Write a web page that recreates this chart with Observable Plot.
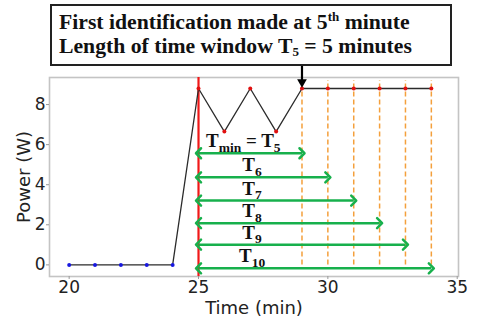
<!DOCTYPE html>
<html>
<head>
<meta charset="utf-8">
<script src="https://cdn.jsdelivr.net/npm/d3@7"></script>
<script src="https://cdn.jsdelivr.net/npm/@observablehq/plot@0.6"></script>
<style>
  body { margin: 0; background: white; }
  #wrap { position: relative; width: 480px; height: 320px; overflow: hidden; }
  #chart { position: absolute; left: 0; top: 0; }
  #box {
    position: absolute; left: 50px; top: 4px; width: 391px; height: 54px;
    border: 2px solid #222; background: white; z-index: 2;
    font-family: "Liberation Serif", "Times New Roman", serif; font-weight: bold;
    font-size: 21.7px; line-height: 24px; color: #111;
    padding: 4px 0 0 7px; white-space: nowrap;
  }
  #box sup { font-size: 0.6em; line-height: 0; vertical-align: 0.6em; }
  #box sub { font-size: 0.6em; line-height: 0; vertical-align: -0.25em; }
</style>
</head>
<body>
<div id="wrap">
  <div id="box">
    <div>First identification made at 5<sup>th</sup> minute</div>
    <div>Length of time window T<sub>5</sub> = 5 minutes</div>
  </div>
  <div id="chart"></div>
</div>
<script>
// ---- data ----
const minutes = [20, 21, 22, 23, 24, 25, 26, 27, 28, 29, 30, 31, 32, 33, 34];
const power   = [0, 0, 0, 0, 0, 8.8, 6.65, 8.8, 6.65, 8.8, 8.8, 8.8, 8.8, 8.8, 8.8];
const identStart = 25;                       // first identification (red line)
const windowEnds = [29, 30, 31, 32, 33, 34];  // orange dashed lines / arrow ends
const windowLabels = ["T_{min} = T_{5}", "T_{6}", "T_{7}", "T_{8}", "T_{9}", "T_{10}"];
const arrowLevels = [5.57, 4.37, 3.21, 2.08, 1.01, -0.17];
const xTicks = [20, 25, 30, 35];
const yTicks = [0, 2, 4, 6, 8];

const series = minutes.map((m, i) => ({minute: m, power: power[i]}));
const before = series.filter(d => d.minute < identStart);
const after = series.filter(d => d.minute >= identStart);
const windows = windowEnds.map((e, i) => ({end: e, level: arrowLevels[i], label: windowLabels[i]}));

const chart = Plot.plot({
  width: 480, height: 320,
  marginTop: 77, marginBottom: 44, marginLeft: 49, marginRight: 22,
  x: {domain: [19.24, 35.05]},
  y: {domain: [-0.58, 9.35]},
  style: {fontFamily: "DejaVu Sans", fontSize: "17px", color: "#222", background: "white", overflow: "visible"},
  marks: [
    Plot.frame({stroke: "#c4c4c4", strokeWidth: 1.6}),
    Plot.axisX({ticks: xTicks, tickSize: 3, tickPadding: 1, stroke: "#999", fill: "#222", label: null}),
    Plot.axisX({ticks: [], tickSize: 0, label: "Time (min)", labelAnchor: "center", labelArrow: "none",
      labelOffset: 37, fontSize: 18, fill: "#222"}),
    Plot.axisY({ticks: yTicks, tickSize: 3, tickPadding: 1, stroke: "#999", fill: "#222", label: null}),
    Plot.axisY({ticks: [], tickSize: 0, label: "Power (W)", labelAnchor: "center", labelArrow: "none",
      labelOffset: 32, fontSize: 18, fill: "#222"}),
    Plot.ruleX(windowEnds, {y1: 0, y2: 9.2, stroke: "#f4a03c", strokeWidth: 1.5, strokeDasharray: "5,3"}),
    Plot.ruleX([identStart], {stroke: "#f01818", strokeWidth: 2.2}),
    Plot.line(series, {x: "minute", y: "power", stroke: "#2b2b2b", strokeWidth: 1.3}),
    Plot.dot(before, {x: "minute", y: "power", r: 2, fill: "#1818e0"}),
    Plot.dot(after, {x: "minute", y: "power", r: 2, fill: "#e01010"}),
    Plot.link(windows, {x1: () => identStart, x2: "end", y1: "level", y2: "level",
      stroke: "#17b04c", strokeWidth: 2.5, markerStart: "arrow-reverse", markerEnd: "arrow"}),
    Plot.text(windows.slice(0, 1), {x: () => 26.73, y: "level", text: "label", dy: -6, lineAnchor: "bottom",
      fontFamily: "Liberation Serif", fontWeight: "bold", fontSize: 19, fill: "#111", className: "sublab"}),
    Plot.text(windows.slice(1), {x: () => 27.07, y: "level", text: "label", dy: -6, lineAnchor: "bottom",
      fontFamily: "Liberation Serif", fontWeight: "bold", fontSize: 19, fill: "#111", className: "sublab"}),
    // annotation arrow from the box to the first identification point
    Plot.ruleX([windowEnds[0]], {y1: 9.9, y2: 9.15, stroke: "black", strokeWidth: 2.2}),
    Plot.dot([windowEnds[0]], {x: d => d, y: () => 9.12, symbol: "triangle", rotate: 180, r: 3.6, fill: "black"})
  ]
});

// convert "_{...}" into real subscript tspans
chart.querySelectorAll(".sublab text").forEach(t => {
  const s = t.textContent;
  t.textContent = "";
  const re = /_\{([^}]*)\}/g;
  let last = 0, m, shifted = false;
  const add = (txt, sub) => {
    if (!txt) return;
    const ts = document.createElementNS("http://www.w3.org/2000/svg", "tspan");
    ts.textContent = txt;
    if (sub) { ts.setAttribute("font-size", "13.5"); ts.setAttribute("dy", shifted ? "0" : "4.5"); shifted = true; }
    else if (shifted) { ts.setAttribute("dy", "-4.5"); shifted = false; }
    t.appendChild(ts);
  };
  while ((m = re.exec(s))) { add(s.slice(last, m.index), false); add(m[1], true); last = re.lastIndex; }
  add(s.slice(last), false);
});

document.getElementById("chart").appendChild(chart);
</script>
</body>
</html>
